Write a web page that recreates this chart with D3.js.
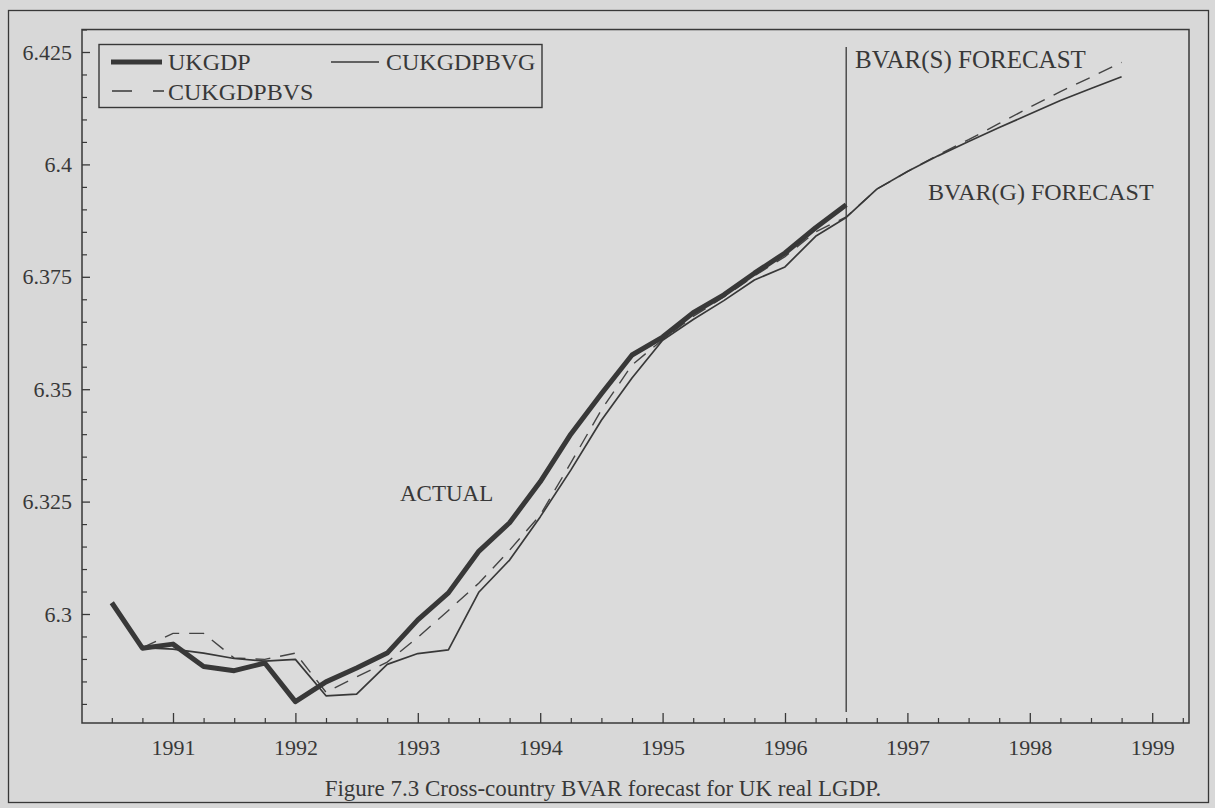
<!DOCTYPE html>
<html><head><meta charset="utf-8">
<script src="https://cdn.jsdelivr.net/npm/d3@7"></script>
<style>
html,body{margin:0;padding:0;background:#d9d9d9;}
svg{display:block;}
svg text{font-family:"Liberation Serif","DejaVu Serif",serif !important;fill:#383838;}
</style></head>
<body>
<svg id="chart" width="1215" height="808"></svg>
<script>
// ---- data ----
const actualDates = [1990.5,1990.75,1991,1991.25,1991.5,1991.75,1992,1992.25,1992.5,1992.75,1993,1993.25,1993.5,1993.75,1994,1994.25,1994.5,1994.75,1995,1995.25,1995.5,1995.75,1996,1996.25,1996.5];
const ukgdp = [6.3025,6.2924,6.2933,6.2883,6.2874,6.2891,6.2805,6.2849,6.2880,6.2913,6.2987,6.3047,6.3140,6.3203,6.3294,6.3400,6.3490,6.3576,6.3616,6.3670,6.3710,6.3758,6.3803,6.3859,6.3910];

const forecastDates = [1990.75,1991,1991.25,1991.5,1991.75,1992,1992.25,1992.5,1992.75,1993,1993.25,1993.5,1993.75,1994,1994.25,1994.5,1994.75,1995,1995.25,1995.5,1995.75,1996,1996.25,1996.5,1996.75,1997,1997.25,1997.5,1997.75,1998,1998.25,1998.5,1998.75];
const cukgdpbvg = [6.2925,6.2922,6.2913,6.2901,6.2895,6.2899,6.2818,6.2822,6.2888,6.2912,6.2920,6.3049,6.3120,6.3216,6.3320,6.3431,6.3525,6.3609,6.3655,6.3697,6.3743,6.3772,6.3840,6.3882,6.3945,6.3984,6.4019,6.4051,6.4082,6.4112,6.4142,6.4169,6.4195];
const cukgdpbvs = [6.2925,6.2957,6.2957,6.2902,6.2899,6.2913,6.2826,6.2860,6.2893,6.2948,6.3008,6.3069,6.3142,6.3220,6.3336,6.3454,6.3554,6.3610,6.3662,6.3705,6.3752,6.3795,6.3850,6.3883,6.3945,6.3984,6.4021,6.4055,6.4091,6.4127,6.4162,6.4194,6.4227];

const xTickYears = [1991,1992,1993,1994,1995,1996,1997,1998,1999];
const xTickLabels = ["1991","1992","1993","1994","1995","1996","1997","1998","1999"];
const yTickValues = [6.3,6.325,6.35,6.375,6.4,6.425];
const yTickLabels = ["6.3","6.325","6.35","6.375","6.4","6.425"];
const seriesNames = ["UKGDP","CUKGDPBVG","CUKGDPBVS"];
const forecastStart = 1996.5;
const caption = "Figure 7.3 Cross-country BVAR forecast for UK real LGDP.";

// ---- layout ----
const ink = "#383838";
const serif = "'Liberation Serif','DejaVu Serif',serif";
const svg = d3.select("#chart");
const plotL = 82, plotR = 1189, plotB = 723;

const x = d3.scaleLinear().domain([1991, 1999]).range([173, 1152.2]);
const y = d3.scaleLinear().domain([6.3, 6.425]).range([614, 52]);
const plotT = y(6.43);

// background
svg.append("rect").attr("width",1215).attr("height",808).attr("fill","#d8d8d8");
// outer frame
svg.append("rect").attr("x",8.5).attr("y",10.5).attr("width",1200).attr("height",792)
  .attr("fill","none").attr("stroke",ink).attr("stroke-width",1.3);
// plot box
svg.append("rect").attr("x",plotL).attr("y",plotT).attr("width",plotR-plotL).attr("height",plotB-plotT)
  .attr("fill","#dbdbdb").attr("stroke",ink).attr("stroke-width",1.5);

// axes: x
const xMinor = d3.range(1990.5, 1999.3, 0.25).filter(v => Math.abs(v - Math.round(v)) > 1e-6);
svg.append("g").attr("transform",`translate(0,${plotB})`)
  .call(d3.axisBottom(x).tickValues(xMinor).tickSize(-5).tickFormat(""))
  .call(g => g.select(".domain").remove())
  .call(g => g.selectAll("line").attr("stroke",ink).attr("stroke-width",1.2));
svg.append("g").attr("transform",`translate(0,${plotB})`)
  .call(d3.axisBottom(x).tickValues(xTickYears).tickSize(-10).tickPadding(16)
        .tickFormat((d,i) => xTickLabels[i]))
  .attr("font-family", serif).attr("font-size", 22)
  .call(g => g.select(".domain").remove())
  .call(g => g.selectAll("line").attr("stroke",ink).attr("stroke-width",1.3))
  .call(g => g.selectAll("text").attr("fill",ink));

// axes: y
const yMinor = d3.range(6.28, 6.4301, 0.005).filter(v => Math.abs((v - 6.3)/0.025 - Math.round((v - 6.3)/0.025)) > 1e-6);
svg.append("g").attr("transform",`translate(${plotL},0)`)
  .call(d3.axisLeft(y).tickValues(yMinor).tickSize(-5).tickFormat(""))
  .call(g => g.select(".domain").remove())
  .call(g => g.selectAll("line").attr("stroke",ink).attr("stroke-width",1.2));
svg.append("g").attr("transform",`translate(${plotL},0)`)
  .call(d3.axisLeft(y).tickValues(yTickValues).tickSize(-8).tickPadding(10)
        .tickFormat((d,i) => yTickLabels[i]))
  .attr("font-family", serif).attr("font-size", 22)
  .call(g => g.select(".domain").remove())
  .call(g => g.selectAll("line").attr("stroke",ink).attr("stroke-width",1.3))
  .call(g => g.selectAll("text").attr("fill",ink));

// forecast divider
svg.append("line").attr("x1",x(forecastStart)).attr("x2",x(forecastStart))
  .attr("y1",47).attr("y2",712).attr("stroke",ink).attr("stroke-width",1.3);

// lines
const line = d3.line().x(d => x(d[0])).y(d => y(d[1]));
const bvs = forecastDates.map((d,i) => [d, cukgdpbvs[i]]);
const bvg = forecastDates.map((d,i) => [d, cukgdpbvg[i]]);
const act = actualDates.map((d,i) => [d, ukgdp[i]]);

svg.append("path").datum(bvs).attr("d",line).attr("fill","none")
  .attr("stroke","#444").attr("stroke-width",1.4).attr("stroke-dasharray","15,10");
svg.append("path").datum(bvg).attr("d",line).attr("fill","none")
  .attr("stroke","#383838").attr("stroke-width",1.7).attr("stroke-linejoin","round");
svg.append("path").datum(act).attr("d",line).attr("fill","none")
  .attr("stroke","#383838").attr("stroke-width",5).attr("stroke-linejoin","round");

// legend
const lg = svg.append("g");
lg.append("rect").attr("x",99).attr("y",44.5).attr("width",443).attr("height",63)
  .attr("fill","none").attr("stroke",ink).attr("stroke-width",1.4);
lg.append("line").attr("x1",111).attr("x2",162).attr("y1",62).attr("y2",62)
  .attr("stroke",ink).attr("stroke-width",5);
lg.append("text").attr("x",168).attr("y",70).attr("font-size",24).text(seriesNames[0]);
lg.append("line").attr("x1",331).attr("x2",379).attr("y1",62).attr("y2",62)
  .attr("stroke",ink).attr("stroke-width",1.7);
lg.append("text").attr("x",386).attr("y",70).attr("font-size",24).text(seriesNames[1]);
lg.append("line").attr("x1",112).attr("x2",164).attr("y1",91).attr("y2",91)
  .attr("stroke",ink).attr("stroke-width",1.4).attr("stroke-dasharray","20,21");
lg.append("text").attr("x",168).attr("y",100).attr("font-size",24).text(seriesNames[2]);

// annotations
svg.append("text").attr("x",855).attr("y",68).attr("font-size",25).text("BVAR(S) FORECAST");
svg.append("text").attr("x",928).attr("y",200).attr("font-size",24).text("BVAR(G) FORECAST");
svg.append("text").attr("x",400).attr("y",501).attr("font-size",23).text("ACTUAL");

// caption
svg.append("text").attr("x",603).attr("y",796).attr("text-anchor","middle")
  .attr("font-size",23).text(caption);
</script>
</body></html>
